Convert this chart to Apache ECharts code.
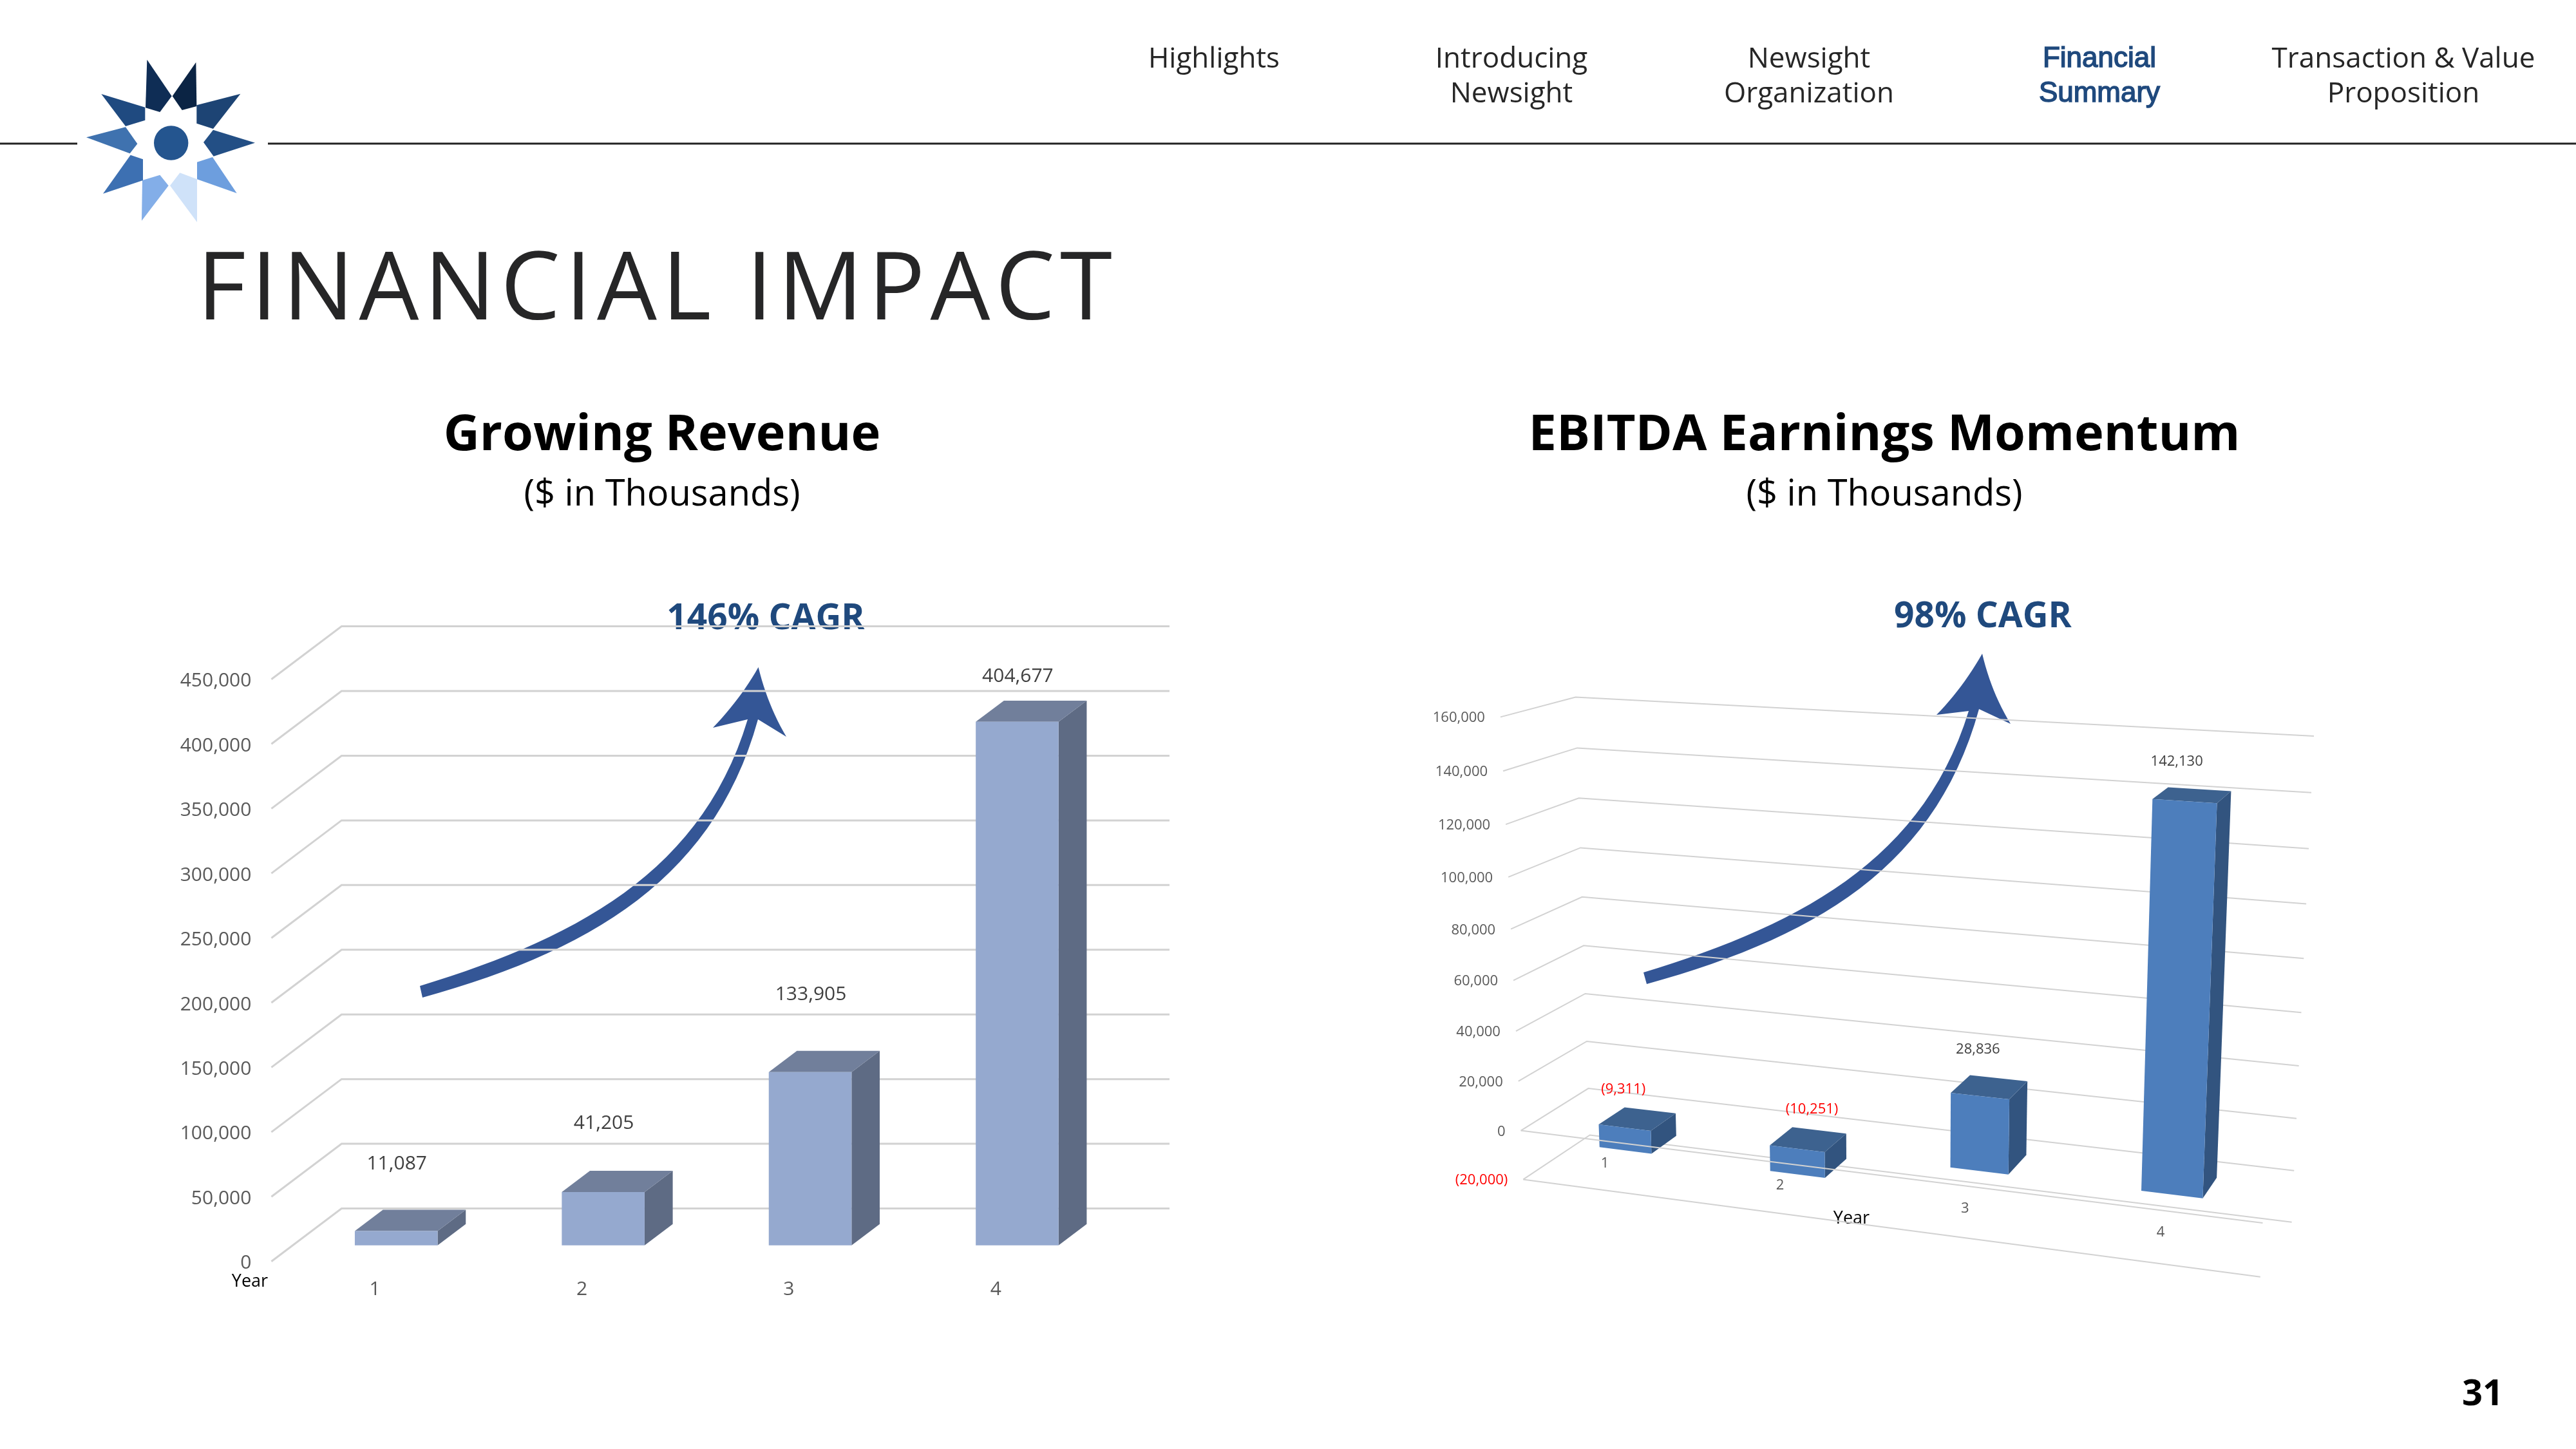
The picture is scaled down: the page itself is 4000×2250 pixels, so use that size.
<!DOCTYPE html>
<html>
<head>
<meta charset="utf-8">
<title>Financial Impact</title>
<style>html,body{margin:0;padding:0;background:#fff}#main{width:4000px;height:2250px}</style>
<script src="https://cdn.jsdelivr.net/npm/echarts@6/dist/echarts.min.js"></script>
</head>
<body>
<div id="main"></div>
<script>
// ---------- data ----------
const years = ['1', '2', '3', '4'];
const revenue = [11087, 41205, 133905, 404677];
const ebitda = [-9311, -10251, 28836, 142130];
const revenueTicks = [0, 50000, 100000, 150000, 200000, 250000, 300000, 350000, 400000, 450000];
const ebitdaTicks = [-20000, 0, 20000, 40000, 60000, 80000, 100000, 120000, 140000, 160000];

// ---------- look ----------
const FONT = '"Open Sans"';
const GRID = '#D2D2D2';
const fmt = v => v < 0 ? '(' + Math.abs(v).toLocaleString('en-US') + ')' : v.toLocaleString('en-US');
const txt = (x, y, text, size, fill, opt) => Object.assign({
  type: 'text', x, y: y + size * 0.08, silent: true,
  style: Object.assign({ text, fill, font: (opt && opt.weight || 'normal') + ' ' + size + 'px ' + (opt && opt.family || FONT),
           align: (opt && opt.align) || 'center', verticalAlign: 'middle' }, opt && opt.style)
}, opt && opt.el);

// ---------- left chart: oblique 3-D ----------
const L = { x: 421.4, w: 1285.6, top: 1054.8, h: 903.9, dx: 109, dy: 82.2, fd: 0.304, bd: 0.705, barW: 0.4 };
const leftLabelLift = [73, 76, 90, 40];

function leftWall(params, api) {
  const v = api.value(0);
  const y = api.coord([0, v])[1];
  return { type: 'polyline', silent: true,
    shape: { points: [[L.x, y], [L.x + L.dx, y - L.dy], [L.x + L.w + L.dx, y - L.dy]] },
    style: { stroke: GRID, lineWidth: 3, fill: null } };
}
function leftBar(params, api) {
  const i = api.value(0), v = api.value(1);
  const c = api.coord([i, v]), b = api.coord([i, 0]);
  const bw = api.size([1, 0])[0] * L.barW;
  const fx = L.dx * L.fd, fy = L.dy * L.fd, bx = L.dx * L.bd, by = L.dy * L.bd;
  const x0 = c[0] - bw / 2 + fx, x1 = c[0] + bw / 2 + fx, x0b = c[0] - bw / 2 + bx, x1b = c[0] + bw / 2 + bx;
  const yt = c[1] - fy, yb = b[1] - fy, ytb = c[1] - by, ybb = b[1] - by;
  return { type: 'group', children: [
    { type: 'polygon', shape: { points: [[x1, yt], [x1b, ytb], [x1b, ybb], [x1, yb]] }, style: { fill: '#5E6B84' } },
    { type: 'polygon', shape: { points: [[x0, yt], [x0b, ytb], [x1b, ytb], [x1, yt]] }, style: { fill: '#717F9B' } },
    { type: 'polygon', shape: { points: [[x0, yt], [x1, yt], [x1, yb], [x0, yb]] }, style: { fill: '#95A9CF' } },
    txt((x0 + x1) / 2 + 1, ytb - leftLabelLift[params.dataIndex], fmt(v), 30, '#404040')
  ] };
}

// ---------- right chart: perspective 3-D ----------
const R = {
  front: [[2365.3, 1831.4], [3509.8, 1982.8], [3545, 1185.6], [2329.9, 1113.4]],
  back: [[2468.7, 1762.5], [3558.6, 1897.8], [3593, 1142.9], [2446.5, 1082.6]],
  gx: 2360, gw: 1150, gy: 1113, gh: 718, fd: 0.31, bd: 0.71, barW: 0.31
};
const rightLabelShift = [[-2, -29], [23, -29], [-3, -41], [-12, -41]];

function homography(q) {
  const [[x0, y0], [x1, y1], [x2, y2], [x3, y3]] = q;
  const dx1 = x1 - x2, dx2 = x3 - x2, sx = x0 - x1 + x2 - x3;
  const dy1 = y1 - y2, dy2 = y3 - y2, sy = y0 - y1 + y2 - y3;
  const det = dx1 * dy2 - dx2 * dy1;
  const g = (sx * dy2 - dx2 * sy) / det, h = (dx1 * sy - sx * dy1) / det;
  const a = x1 - x0 + g * x1, b = x3 - x0 + h * x3, d = y1 - y0 + g * y1, e = y3 - y0 + h * y3;
  return (u, t) => { const w = g * u + h * t + 1; return [(a * u + b * t + x0) / w, (d * u + e * t + y0) / w]; };
}
const hFront = homography(R.front), hBack = homography(R.back);
const project = (u, t, d) => { const f = hFront(u, t), b = hBack(u, t); return [f[0] + (b[0] - f[0]) * d, f[1] + (b[1] - f[1]) * d]; };
const rT = (api, v) => (R.gy + R.gh - api.coord([0, v])[1]) / R.gh;
const rU = (api, i, off) => (api.coord([i, 0])[0] + (off || 0) * api.size([1, 0])[0] - R.gx) / R.gw;

function rightWall(params, api) {
  const v = api.value(0), t = rT(api, v);
  return { type: 'group', silent: true, children: [
    { type: 'polyline', shape: { points: [project(0, t, 0), project(0, t, 1), project(1, t, 1)] },
      style: { stroke: GRID, lineWidth: 2, fill: null } },
    (() => { const p = project(0, t, 0);
      return txt(p[0] - 24, p[1], fmt(v), 22, v < 0 ? '#FF0000' : '#595959', { align: 'right' }); })()
  ] };
}
function rightFront(params, api) {
  const v = api.value(0), t = rT(api, v);
  return { type: 'polyline', silent: true, shape: { points: [project(0, t, 0), project(1, t, 0)] },
    style: { stroke: GRID, lineWidth: 2, fill: null } };
}
function rightBar(params, api) {
  const i = api.value(0), v = api.value(1);
  const hw = R.barW / 2;
  const t1 = rT(api, Math.max(v, 0)), t0 = rT(api, Math.min(v, 0));
  const u0 = rU(api, i, -hw), u1 = rU(api, i, hw);
  const F = R.fd, B = R.bd;
  const a = project(u0, t1, F), b = project(u1, t1, F), c = project(u1, t0, F), e = project(u0, t0, F);
  const a2 = project(u0, t1, B), b2 = project(u1, t1, B), c2 = project(u1, t0, B);
  const s = rightLabelShift[params.dataIndex];
  const m = project(rU(api, i), t1, F);
  return { type: 'group', children: [
    { type: 'polygon', shape: { points: [b, b2, c2, c] }, style: { fill: '#32547F' } },
    { type: 'polygon', shape: { points: [a, a2, b2, b] }, style: { fill: '#3D628F' } },
    { type: 'polygon', shape: { points: [a, b, c, e] }, style: { fill: '#4D7EBC' } },
    txt(m[0] + s[0], a2[1] + s[1], fmt(v), 22, v < 0 ? '#FF0000' : '#404040')
  ] };
}
function rightCat(params, api) {
  const i = api.value(0);
  const p = project(rU(api, i), rT(api, 0), 0);
  return txt(p[0], p[1] + 33, years[i], 22, '#595959');
}

// ---------- page furniture ----------
function cubic(p) {
  const out = [];
  for (let k = 0; k <= 30; k++) { const t = k / 30, s = 1 - t;
    out.push([0, 1].map(j => s * s * s * p[0][j] + 3 * s * s * t * p[1][j] + 3 * s * t * t * p[2][j] + t * t * t * p[3][j])); }
  return out;
}
function quad(a, c, b) {
  const out = [];
  for (let k = 0; k <= 12; k++) { const t = k / 12, s = 1 - t;
    out.push([s * s * a[0] + 2 * s * t * c[0] + t * t * b[0], s * s * a[1] + 2 * s * t * c[1] + t * t * b[1]]); }
  return out;
}
function arrow(outer, inner, barbL, ctrlL, tip, ctrlR, barbR) {
  const pts = cubic(outer).concat(quad(barbL, ctrlL, tip), quad(tip, ctrlR, barbR), cubic(inner).reverse());
  return { type: 'polygon', silent: true, shape: { points: pts }, style: { fill: '#345696' } };
}
const logoPieces = [
  [[685,98],[800,268],[745,342],[678,322],'#0F2D55'],
  [[913,110],[803,268],[848,333],[916,315],'#0B2444'],
  [[1120,257],[993,420],[916,395],[916,310],'#1D4474'],
  [[1188,485],[995,548],[948,483],[993,425],'#234F85'],
  [[1103,720],[918,655],[918,575],[990,552],'#6D9EDE'],
  [[918,855],[792,685],[838,625],[918,655],'#CFE2F9'],
  [[660,848],[785,685],[745,635],[663,660],'#83AEE8'],
  [[480,722],[666,660],[666,562],[608,542],'#3D70B2'],
  [[402,460],[585,412],[640,490],[605,535],'#3F72AF'],
  [[472,258],[676,320],[676,380],[585,408],'#1F4A80']
];
const logo = logoPieces.map(p => ({ type: 'polygon', silent: true,
  shape: { points: p.slice(0, 4).map(q => [q[0] / 3, q[1] / 3 + 60]) }, style: { fill: p[4] } }));
logo.push({ type: 'circle', silent: true, shape: { cx: 265.7, cy: 222, r: 26.7 }, style: { fill: '#24558F' } });

const navDark = '#262626', navBlue = '#1F497D', NAV = 44;
const navBold = { family: '"Liberation Sans"', style: { stroke: navBlue, lineWidth: 1.5 } };
const furniture = [
  { type: 'line', silent: true, shape: { x1: 0, y1: 223, x2: 120, y2: 223 }, style: { stroke: '#222', lineWidth: 3 } },
  { type: 'line', silent: true, shape: { x1: 416, y1: 223, x2: 4000, y2: 223 }, style: { stroke: '#222', lineWidth: 3 } },
  ...logo,
  txt(1885, 89, 'Highlights', NAV, navDark),
  txt(2347, 89, 'Introducing', NAV, navDark), txt(2347, 143, 'Newsight', NAV, navDark),
  txt(2809, 89, 'Newsight', NAV, navDark), txt(2809, 143, 'Organization', NAV, navDark),
  txt(3260, 88, 'Financial', 44, navBlue, navBold),
  txt(3260, 142, 'Summary', 44, navBlue, navBold),
  txt(3732, 89, 'Transaction & Value', NAV, navDark), txt(3732, 143, 'Proposition', NAV, navDark),
  txt(1028, 671, 'Growing Revenue', 77.5, '#000', { weight: 'bold' }),
  txt(1028, 765, '($ in Thousands)', 56, '#000'),
  txt(2926, 671, 'EBITDA Earnings Momentum', 77.5, '#000', { weight: 'bold' }),
  txt(2926, 765, '($ in Thousands)', 56, '#000'),
  txt(3855, 2162, '31', 56, '#000', { weight: 'bold' }),
  arrow([[652,1531],[890,1458],[1089,1357],[1161,1117]],
        [[656,1549],[919,1476],[1109,1363],[1177,1117]],
        [1107,1130],[1150,1085],[1177.6,1036],[1192,1095],[1221,1144]),
  arrow([[2552,1510],[2788,1438],[2985,1339],[3057,1104]],
        [[2557,1528],[2820,1455],[3005,1347],[3073,1101]],
        [3007,1110],[3048,1068],[3078,1015],[3092,1075],[3122,1124]),
  txt(1189, 957, '146% CAGR', 55, navBlue, { weight: 'bold' }),
  txt(3079, 954, '98% CAGR', 55, navBlue, { weight: 'bold' }),
  txt(388, 1988, 'Year', 27, '#000'),
  txt(2875, 1890, 'Year', 27, '#000')
];

// ---------- chart ----------
const chart = echarts.init(document.getElementById('main'), null, { width: 4000, height: 2250 });
const custom = (axis, fn, data, z) => ({ type: 'custom', xAxisIndex: axis, yAxisIndex: axis, renderItem: fn, data, z,
  clip: false, silent: true, animation: false, encode: { x: 0, y: 1 } });

chart.setOption({
  animation: false,
  backgroundColor: '#fff',
  tooltip: { show: false },
  title: { text: 'FINANCIAL IMPACT', zlevel: 1, left: 306, top: 354, padding: 0, itemGap: 0,
    textStyle: { fontFamily: FONT, fontWeight: 'normal', fontSize: 147, color: '#262626', lineHeight: 200 } },
  graphic: furniture,
  grid: [
    { left: L.x, width: L.w, top: L.top, height: L.h },
    { left: R.gx, width: R.gw, top: R.gy, height: R.gh }
  ],
  xAxis: [
    { type: 'category', gridIndex: 0, data: years, axisLine: { show: false }, axisTick: { show: false },
      axisLabel: { margin: 29, fontSize: 30, fontFamily: FONT, color: '#595959' } },
    { type: 'category', gridIndex: 1, data: years, show: false }
  ],
  yAxis: [
    { type: 'value', gridIndex: 0, min: revenueTicks[0], max: revenueTicks[revenueTicks.length - 1], interval: 50000,
      axisLine: { show: false }, axisTick: { show: false }, splitLine: { show: false },
      axisLabel: { margin: 31, fontSize: 30, fontFamily: FONT, color: '#595959', verticalAlign: 'top', lineHeight: 6, formatter: fmt } },
    { type: 'value', gridIndex: 1, min: ebitdaTicks[0], max: ebitdaTicks[ebitdaTicks.length - 1], interval: 20000,
      show: false, splitLine: { show: false } }
  ],
  series: [
    Object.assign(custom(0, leftWall, revenueTicks.map(v => [v]), 2), { encode: { y: 0 } }),
    custom(0, leftBar, revenue.map((v, i) => [i, v]), 3),
    Object.assign(custom(1, rightWall, ebitdaTicks.map(v => [v]), 2), { encode: { y: 0 } }),
    custom(1, rightBar, ebitda.map((v, i) => [i, v]), 3),
    Object.assign(custom(1, rightFront, [[-20000], [0]], 4), { encode: { y: 0 } }),
    custom(1, rightCat, years.map((c, i) => [i, 0]), 4)
  ]
});

// The page title is tracked out in the original: give its canvas layer letter spacing.
const zr = chart.getZr();
zr.refreshImmediately();
const titleLayer = zr.painter.getLayer(1);
titleLayer.ctx.letterSpacing = '8px';
zr.refresh();
chart.setOption({ title: { textStyle: { color: '#262627' } } });
</script>
</body>
</html>
